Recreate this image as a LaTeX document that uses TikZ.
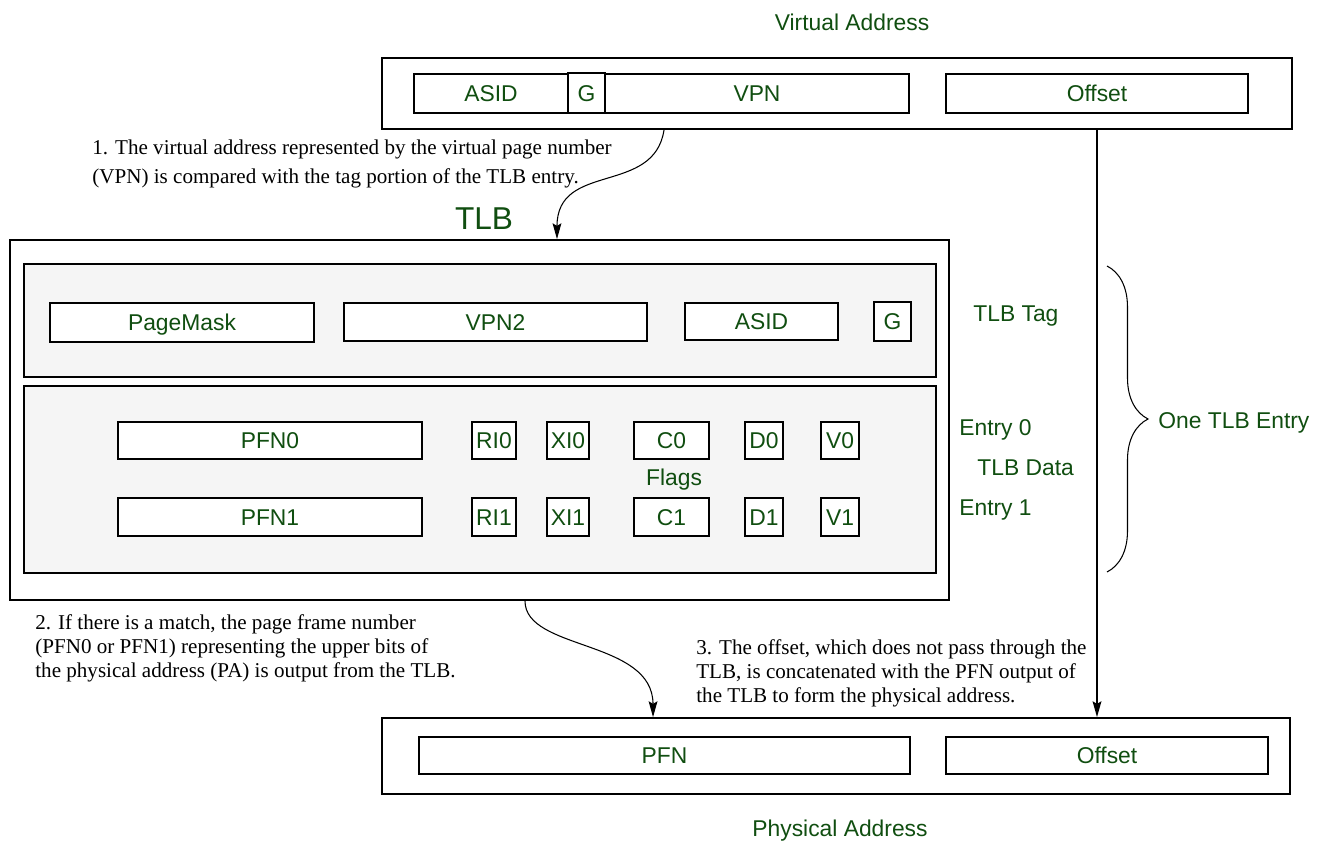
\documentclass[tikz,border=0pt]{standalone}
\usepackage{fontspec}
\setmainfont{Liberation Serif}
\setsansfont{Liberation Sans}
\usepackage{tikz}
\usetikzlibrary{arrows.meta, fit, decorations.pathreplacing}
\definecolor{gruen}{HTML}{104E10}
\definecolor{grau}{HTML}{F5F5F5}

\begin{document}
\begin{tikzpicture}[x=0.02cm, y=-0.02cm,
    rahmen/.style={draw, line width=1pt, inner sep=0pt},
    bereich/.style={rahmen, fill=grau},
    titel/.style={text=gruen, font=\sffamily\fontsize{13}{15}\selectfont,
      inner sep=0pt, text height=9.3pt, text depth=0pt},
    feld/.style={rahmen, fill=white, label={[titel]center:#1}},
    notiz/.style={font=\fontsize{12}{13.6}\selectfont, align=left, inner sep=0pt, anchor=west},
    pfeil/.style={line width=0.6pt, -{Stealth[length=9pt, width=5pt, inset=1.5pt]}}]
  \useasboundingbox (0,0) rectangle (1333,844);

  % Virtuelle Adresse
  \node[titel] (va-titel) at (852,22) {Virtual Address};
  \node[rahmen, fit={(382,58) (1292,129)}] (va) {};
  \node[feld=ASID, fit={(414,74) (568,113)}] (va-asid) {};
  \node[feld=G, fit={(568,73) (605,113)}] (va-g) {};
  \node[feld=VPN, fit={(605,74) (909,113)}] (va-vpn) {};
  \node[feld=Offset, fit={(946,74) (1248,113)}] (va-off) {};

  % TLB mit Tag und Daten
  \node[titel, font=\sffamily\fontsize{18}{20}\selectfont, text height=12.9pt] (tlb-titel) at (484,218) {TLB};
  \node[rahmen, fit={(10,240) (949,600)}] (tlb) {};
  \node[bereich, fit={(24,264) (936,377)}] (tag) {};
  \node[bereich, fit={(24,386) (936,573)}] (data) {};
  \node[feld=PageMask, fit={(50,303) (314,342)}] (pagemask) {};
  \node[feld=VPN2, fit={(344,303) (647,341)}] (vpn2) {};
  \node[feld=ASID, fit={(685,303) (838,340)}] (tag-asid) {};
  \node[feld=G, fit={(874,302) (911,341)}] (tag-g) {};

  % Eintrag 0 und Eintrag 1
  \foreach \r/\ya/\yb in {0/422/459, 1/498/536} {
    \node[feld=PFN\r, fit={(118,\ya) (422,\yb)}] (pfn\r) {};
    \foreach \f/\xa/\xb in {RI/472/516, XI/547/589, C/634/709, D/745/783, V/821/859}
      \node[feld=\f\r, fit={(\xa,\ya) (\xb,\yb)}] (\f\r) {};
  }
  \node[titel] (flags) at (674,477) {Flags};

  % Beschriftung rechts
  \node[titel, anchor=west] (tag-text) at (973,313) {TLB Tag};
  \node[titel, anchor=west] (eintrag0) at (959,427) {Entry 0};
  \node[titel, anchor=west] (data-text) at (977,467) {TLB Data};
  \node[titel, anchor=west] (eintrag1) at (959,507) {Entry 1};
  \draw[line width=0.6pt, decorate, decoration={brace, amplitude=0.82cm}] (1107,266) -- (1107,572);
  \node[titel, anchor=west] (eintrag) at (1158,420) {One TLB Entry};

  % Physikalische Adresse
  \node[rahmen, fit={(382,718) (1290,794)}] (pa) {};
  \node[feld=PFN, fit={(419,737) (910,774)}] (pa-pfn) {};
  \node[feld=Offset, fit={(946,737) (1268,774)}] (pa-off) {};
  \node[titel] (pa-titel) at (840,828) {Physical Address};

  % Schritte
  \draw[pfeil] ([xshift=-3.46cm]va.south) .. controls +(-10,66) and +(0,-78) .. ([xshift=1.55cm]tlb.north);
  \draw[pfeil] ([xshift=0.91cm]tlb.south) .. controls +(0,50) and +(0,-78) .. ([xshift=-3.66cm]pa.north);
  \draw[pfeil, line width=0.9pt] (va.south -| va-off.center) -- (pa.north -| va-off.center);

  \node[notiz, font=\fontsize{12}{17}\selectfont] (schritt1) at (92,164)
    {1. The virtual address represented by the virtual page number\\(VPN) is compared with the tag portion of the TLB entry.};
  \node[notiz] (schritt2) at (35,648)
    {2. If there is a match, the page frame number\\(PFN0 or PFN1) representing the upper bits of\\the physical address (PA) is output from the TLB.};
  \node[notiz] (schritt3) at (696,673)
    {3. The offset, which does not pass through the\\TLB, is concatenated with the PFN output of\\the TLB to form the physical address.};
\end{tikzpicture}
\end{document}
